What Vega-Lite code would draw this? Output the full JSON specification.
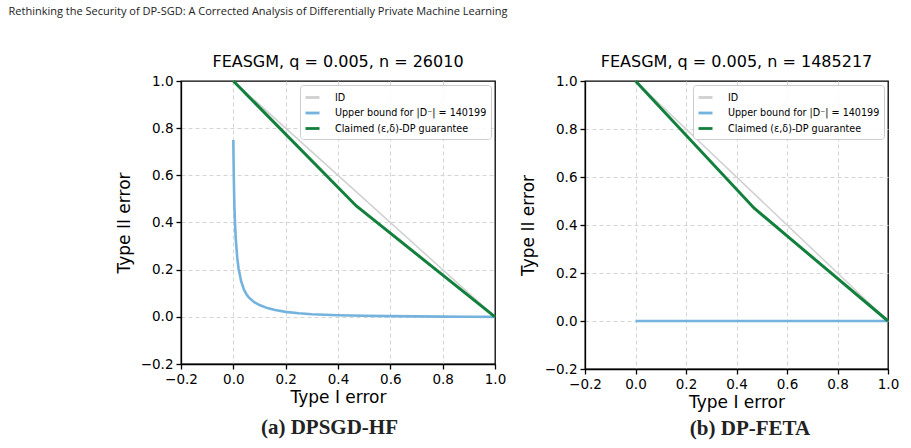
{
  "$schema": "https://vega.github.io/schema/vega-lite/v6.json",
  "background": "white",
  "padding": {"left": 8, "top": 6, "right": 2, "bottom": 2},
  "title": {"text": "Rethinking the Security of DP-SGD: A Corrected Analysis of Differentially Private Machine Learning", "anchor": "start", "frame": "bounds", "font": "Open Sans", "fontSize": 11, "fontWeight": "normal", "color": "#222", "dx": -106, "offset": 36},
  "datasets": {
    "a": [
      {"k": "id", "series": "ID", "x": 0, "y": 1},
      {"k": "id", "series": "ID", "x": 1, "y": 0},
      {"k": "ub", "series": "Upper bound for |D⁻| = 140199", "x": 0, "y": 0.75},
      {"k": "ub", "series": "Upper bound for |D⁻| = 140199", "x": 0.001, "y": 0.66},
      {"k": "ub", "series": "Upper bound for |D⁻| = 140199", "x": 0.002, "y": 0.58},
      {"k": "ub", "series": "Upper bound for |D⁻| = 140199", "x": 0.004, "y": 0.47},
      {"k": "ub", "series": "Upper bound for |D⁻| = 140199", "x": 0.007, "y": 0.38},
      {"k": "ub", "series": "Upper bound for |D⁻| = 140199", "x": 0.01, "y": 0.32},
      {"k": "ub", "series": "Upper bound for |D⁻| = 140199", "x": 0.015, "y": 0.25},
      {"k": "ub", "series": "Upper bound for |D⁻| = 140199", "x": 0.02, "y": 0.205},
      {"k": "ub", "series": "Upper bound for |D⁻| = 140199", "x": 0.03, "y": 0.15},
      {"k": "ub", "series": "Upper bound for |D⁻| = 140199", "x": 0.04, "y": 0.117},
      {"k": "ub", "series": "Upper bound for |D⁻| = 140199", "x": 0.05, "y": 0.096},
      {"k": "ub", "series": "Upper bound for |D⁻| = 140199", "x": 0.06, "y": 0.081},
      {"k": "ub", "series": "Upper bound for |D⁻| = 140199", "x": 0.08, "y": 0.062},
      {"k": "ub", "series": "Upper bound for |D⁻| = 140199", "x": 0.1, "y": 0.05},
      {"k": "ub", "series": "Upper bound for |D⁻| = 140199", "x": 0.13, "y": 0.037},
      {"k": "ub", "series": "Upper bound for |D⁻| = 140199", "x": 0.16, "y": 0.029},
      {"k": "ub", "series": "Upper bound for |D⁻| = 140199", "x": 0.2, "y": 0.021},
      {"k": "ub", "series": "Upper bound for |D⁻| = 140199", "x": 0.25, "y": 0.015},
      {"k": "ub", "series": "Upper bound for |D⁻| = 140199", "x": 0.3, "y": 0.011},
      {"k": "ub", "series": "Upper bound for |D⁻| = 140199", "x": 0.4, "y": 0.007},
      {"k": "ub", "series": "Upper bound for |D⁻| = 140199", "x": 0.5, "y": 0.0045},
      {"k": "ub", "series": "Upper bound for |D⁻| = 140199", "x": 0.6, "y": 0.003},
      {"k": "ub", "series": "Upper bound for |D⁻| = 140199", "x": 0.7, "y": 0.0018},
      {"k": "ub", "series": "Upper bound for |D⁻| = 140199", "x": 0.8, "y": 0.001},
      {"k": "ub", "series": "Upper bound for |D⁻| = 140199", "x": 0.9, "y": 0.0004},
      {"k": "ub", "series": "Upper bound for |D⁻| = 140199", "x": 1.0, "y": 0},
      {"k": "cl", "series": "Claimed (ε,δ)-DP guarantee", "x": 0, "y": 1},
      {"k": "cl", "series": "Claimed (ε,δ)-DP guarantee", "x": 0.47, "y": 0.47},
      {"k": "cl", "series": "Claimed (ε,δ)-DP guarantee", "x": 1, "y": 0}
    ],
    "b": [
      {"k": "id", "series": "ID", "x": 0, "y": 1},
      {"k": "id", "series": "ID", "x": 1, "y": 0},
      {"k": "ub", "series": "Upper bound for |D⁻| = 140199", "x": 0, "y": 0},
      {"k": "ub", "series": "Upper bound for |D⁻| = 140199", "x": 1, "y": 0},
      {"k": "cl", "series": "Claimed (ε,δ)-DP guarantee", "x": 0, "y": 1},
      {"k": "cl", "series": "Claimed (ε,δ)-DP guarantee", "x": 0.47, "y": 0.47},
      {"k": "cl", "series": "Claimed (ε,δ)-DP guarantee", "x": 1, "y": 0}
    ]
  },
  "hconcat": [
    {
      "title": {"text": "(a) DPSGD-HF", "orient": "bottom", "anchor": "middle", "font": "Liberation Serif", "fontSize": 21, "fontWeight": "bold", "color": "#222", "offset": 11, "dx": 19},
      "resolve": {"scale": {"color": "independent"}, "legend": {"color": "independent"}},
      "vconcat": [
        {
          "width": 314,
          "height": 283,
          "title": {"text": "FEASGM, q = 0.005, n = 26010", "font": "DejaVu Sans", "fontSize": 16, "fontWeight": "normal", "color": "#000", "offset": 4},
          "data": {"name": "a"},
          "encoding": {
            "x": {"field": "x", "type": "quantitative", "scale": {"domain": [-0.2, 1.0], "nice": false, "zero": false}, "axis": {"values": [-0.2, 0, 0.2, 0.4, 0.6, 0.8, 1.0], "format": ".1f", "title": "Type I error", "gridOpacity": {"condition": {"test": "datum.value < -0.1 || datum.value > 0.9", "value": 0}, "value": 1}}},
            "y": {"field": "y", "type": "quantitative", "scale": {"domain": [-0.2, 1.0], "nice": false, "zero": false}, "axis": {"values": [-0.2, 0, 0.2, 0.4, 0.6, 0.8, 1.0], "format": ".1f", "title": "Type II error", "titlePadding": 7, "gridOpacity": {"condition": {"test": "datum.value < -0.1 || datum.value > 0.9", "value": 0}, "value": 1}}},
            "color": {"field": "series", "type": "nominal", "scale": {"domain": ["ID", "Upper bound for |D⁻| = 140199", "Claimed (ε,δ)-DP guarantee"], "range": ["#d0d0d0", "#74b3dd", "#12803c"]}}
          },
          "layer": [
            {"transform": [{"filter": {"field": "k", "equal": "id"}}], "mark": {"type": "line", "strokeWidth": 1.5}},
            {"transform": [{"filter": {"field": "k", "equal": "ub"}}], "mark": {"type": "line", "strokeWidth": 2.6}},
            {"transform": [{"filter": {"field": "k", "equal": "cl"}}], "mark": {"type": "line", "strokeWidth": 3}}
          ]
        }
      ]
    },
    {
      "title": {"text": "(b) DP-FETA", "orient": "bottom", "anchor": "middle", "font": "Liberation Serif", "fontSize": 21, "fontWeight": "bold", "color": "#222", "offset": 7, "dx": 41},
      "resolve": {"scale": {"color": "independent"}, "legend": {"color": "independent"}},
      "vconcat": [
        {
          "width": 303,
          "height": 288,
          "title": {"text": "FEASGM, q = 0.005, n = 1485217", "font": "DejaVu Sans", "fontSize": 16, "fontWeight": "normal", "color": "#000", "offset": 4},
          "data": {"name": "b"},
          "encoding": {
            "x": {"field": "x", "type": "quantitative", "scale": {"domain": [-0.2, 1.0], "nice": false, "zero": false}, "axis": {"values": [-0.2, 0, 0.2, 0.4, 0.6, 0.8, 1.0], "format": ".1f", "title": "Type I error", "gridOpacity": {"condition": {"test": "datum.value < -0.1 || datum.value > 0.9", "value": 0}, "value": 1}}},
            "y": {"field": "y", "type": "quantitative", "scale": {"domain": [-0.2, 1.0], "nice": false, "zero": false}, "axis": {"values": [-0.2, 0, 0.2, 0.4, 0.6, 0.8, 1.0], "format": ".1f", "title": "Type II error", "titlePadding": 7, "gridOpacity": {"condition": {"test": "datum.value < -0.1 || datum.value > 0.9", "value": 0}, "value": 1}}},
            "color": {"field": "series", "type": "nominal", "scale": {"domain": ["ID", "Upper bound for |D⁻| = 140199", "Claimed (ε,δ)-DP guarantee"], "range": ["#d0d0d0", "#74b3dd", "#12803c"]}}
          },
          "layer": [
            {"transform": [{"filter": {"field": "k", "equal": "id"}}], "mark": {"type": "line", "strokeWidth": 1.5}},
            {"transform": [{"filter": {"field": "k", "equal": "ub"}}], "mark": {"type": "line", "strokeWidth": 2.6}},
            {"transform": [{"filter": {"field": "k", "equal": "cl"}}], "mark": {"type": "line", "strokeWidth": 3}}
          ]
        }
      ]
    }
  ],
  "spacing": 11,
  "resolve": {"scale": {"color": "independent"}, "legend": {"color": "independent"}},
  "config": {
    "view": {"stroke": "#000", "strokeWidth": 1.3},
    "axis": {
      "grid": true, "gridDash": [4, 3], "gridColor": "#d4d4d4", "gridWidth": 1,
      "domainColor": "#000", "domainWidth": 1.3,
      "tickColor": "#000", "tickSize": 5, "tickWidth": 1.3,
      "labelFont": "DejaVu Sans", "labelFontSize": 13.5, "labelColor": "#000", "labelPadding": 3, "labelFlush": false, "labelOverlap": false,
      "titleFont": "DejaVu Sans", "titleFontSize": 17, "titleFontWeight": "normal", "titleColor": "#000", "titlePadding": 4
    },
    "legend": {
      "orient": "top-right", "offset": 4, "title": null,
      "symbolType": "stroke", "symbolSize": 196, "symbolStrokeWidth": 2.8,
      "labelFont": "DejaVu Sans", "labelFontSize": 9.6, "labelColor": "#000", "labelOffset": 14,
      "rowPadding": 0.5, "padding": 4,
      "strokeColor": "#cccccc", "fillColor": "rgba(255,255,255,0.85)", "cornerRadius": 3
    }
  }
}
